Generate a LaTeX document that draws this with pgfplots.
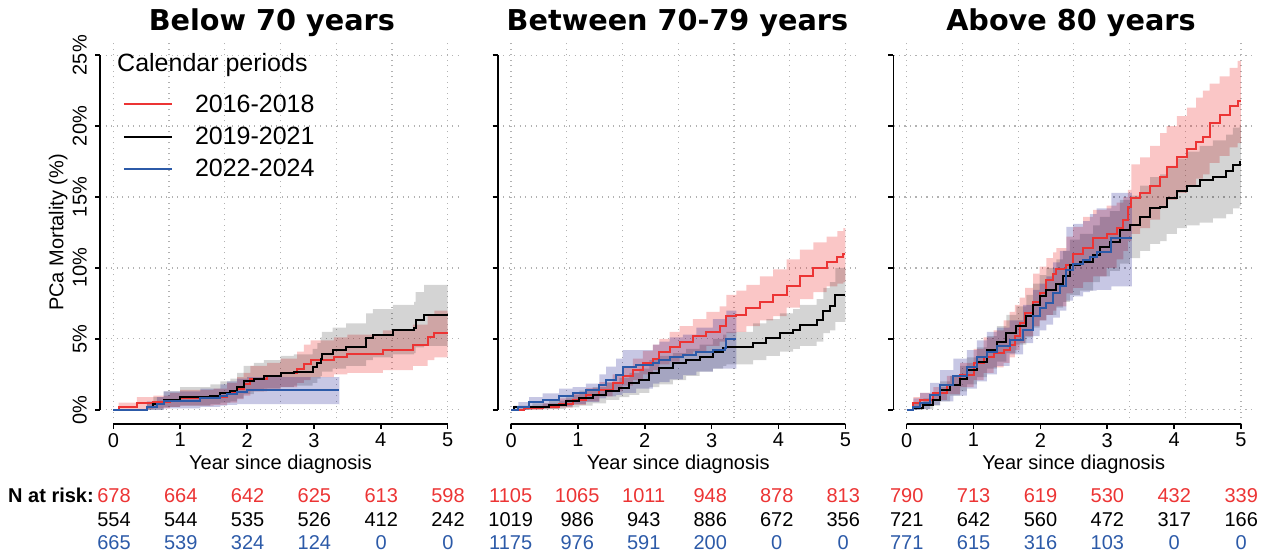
\documentclass[border=0pt]{standalone}
\usepackage{fontspec}
\setmainfont{Liberation Sans}
\newfontfamily\titlefont{DejaVu Sans}
\usepackage{pgfplots}
\pgfplotsset{compat=1.18}
\usepgfplotslibrary{fillbetween}
\usepackage{pgfplotstable}

\definecolor{cred}{HTML}{EC3434}
\definecolor{cblue}{HTML}{2C5AA8}
\definecolor{bred}{HTML}{EC3434}
\definecolor{bblue}{RGB}{0,0,130}

% ---------- Panel 1: below 70 ----------
\pgfplotstableread{
t v lo hi
0 0 0 0
0.08 0.2 0 0.5
0.35 0.45 0.05 0.9
0.6 0.55 0.1 1.0
0.85 0.7 0.2 1.2
1.0 0.8 0.3 1.4
1.5 0.9 0.35 1.5
1.7 1.2 0.5 1.9
1.85 1.5 0.75 2.3
1.95 1.8 1.0 2.6
2.05 2.2 1.3 3.1
2.3 2.4 1.5 3.3
2.5 2.6 1.6 3.6
2.75 2.9 1.9 4.1
2.85 3.2 2.1 4.6
2.95 3.5 2.3 4.9
3.3 3.75 2.5 5.1
3.5 3.9 2.6 5.3
4.03 4.2 2.8 5.6
4.48 4.6 3.1 6.0
4.7 5.1 3.5 6.6
4.8 5.4 3.7 7.0
5.0 5.4 3.7 7.0
}\pAr
\pgfplotstableread{
t v lo hi
0 0 0 0
0.5 0.2 0 0.5
0.6 0.4 0 0.9
0.75 0.7 0.2 1.3
1.0 0.9 0.3 1.6
1.45 1.0 0.4 1.8
1.6 1.2 0.5 2.0
1.75 1.3 0.6 2.2
1.85 1.6 0.8 2.6
1.95 2.0 1.1 3.1
2.1 2.2 1.3 3.3
2.25 2.4 1.5 3.5
2.5 2.6 1.6 3.8
2.7 2.7 1.7 3.9
2.98 3.0 1.9 4.3
3.05 3.3 2.2 4.7
3.1 3.6 2.4 5.1
3.12 3.95 2.7 5.5
3.28 4.2 2.9 5.8
3.48 4.45 3.1 6.1
3.78 5.05 3.5 6.8
3.88 5.3 3.7 7.1
4.18 5.6 3.9 7.4
4.5 5.75 4.0 7.6
4.52 6.3 4.4 8.3
4.65 6.65 4.5 8.8
5.0 6.65 4.5 8.8
}\pAk
\pgfplotstableread{
t v lo hi
0 0 0 0
0.5 0.2 0 0.6
0.65 0.4 0 0.9
0.75 0.65 0.1 1.3
1.3 0.8 0.2 1.5
1.6 1.0 0.3 1.8
1.7 1.1 0.35 2.0
1.85 1.25 0.4 2.2
2.0 1.4 0.4 2.3
3.38 1.4 0.35 2.35
}\pAb

% ---------- Panel 2: 70-79 ----------
\pgfplotstableread{
t v lo hi
0 0 0 0
0.2 0.1 0 0.2
0.47 0.23 0.05 0.45
0.72 0.42 0.15 0.8
0.92 0.7 0.35 1.2
1.12 1.06 0.6 1.55
1.32 1.4 0.95 1.95
1.52 1.88 1.3 2.5
1.67 2.35 1.7 3.05
1.82 2.8 2.1 3.6
1.97 3.3 2.5 4.15
2.12 3.6 2.8 4.6
2.22 4.1 3.2 5.0
2.37 4.46 3.4 5.5
2.52 4.8 3.8 5.9
2.72 5.2 4.1 6.4
2.92 5.5 4.5 6.9
3.12 5.9 4.8 7.3
3.22 6.6 5.4 8.1
3.37 6.7 5.5 8.4
3.52 7.15 5.9 8.8
3.72 7.6 6.3 9.4
3.92 8.1 6.6 9.9
4.12 8.7 7.2 10.6
4.32 9.4 7.8 11.3
4.52 10.0 8.3 11.8
4.72 10.45 8.7 12.2
4.88 10.8 8.9 12.6
4.97 11.0 9.0 12.8
5.0 11.0 9.0 12.8
}\pBr
\pgfplotstableread{
t v lo hi
0 0 0 0
0.04 0.19 0 0.3
0.32 0.23 0.03 0.45
0.57 0.35 0.06 0.65
0.82 0.6 0.18 1.05
1.02 0.82 0.3 1.35
1.22 1.06 0.45 1.6
1.42 1.3 0.7 1.9
1.62 1.53 0.9 2.25
1.77 1.88 1.05 2.6
1.92 2.1 1.2 2.9
2.07 2.6 1.6 3.5
2.22 2.93 1.8 3.8
2.42 3.3 2.1 4.0
2.62 3.5 2.4 4.3
2.82 3.75 2.7 4.6
3.02 4.1 2.9 5.0
3.17 4.35 3.1 5.3
3.22 4.46 3.2 5.5
3.62 4.7 3.5 6.1
3.82 5.05 3.8 6.4
4.02 5.4 4.1 6.8
4.22 5.6 4.3 7.1
4.32 6.0 4.5 7.4
4.57 6.3 4.8 7.8
4.67 7.0 5.4 8.6
4.77 7.3 5.6 9.0
4.85 8.1 6.2 10.0
5.0 8.1 6.2 10.0
}\pBk
\pgfplotstableread{
t v lo hi
0 0 0 0
0.11 0.23 0 0.55
0.27 0.52 0.05 0.9
0.47 0.7 0.12 1.15
0.72 0.94 0.25 1.5
0.92 1.17 0.4 1.6
1.12 1.4 0.55 1.85
1.32 1.76 0.8 2.5
1.42 2.1 0.95 3.05
1.57 2.46 1.05 3.6
1.67 3.05 1.2 4.2
1.87 3.17 1.5 4.2
2.12 3.3 1.85 4.6
2.22 3.5 1.95 4.8
2.37 3.75 2.15 5.1
2.57 3.87 2.45 5.3
2.77 4.1 2.7 5.8
3.02 4.2 2.9 6.4
3.2 4.35 2.9 6.6
3.22 5.0 2.9 7.0
3.37 5.0 2.9 7.0
}\pBb

% ---------- Panel 3: above 80 ----------
\pgfplotstableread{
t v lo hi
0 0 0 0
0.1 0.47 0.1 0.9
0.2 0.7 0.3 1.2
0.4 1.17 0.7 1.6
0.6 1.76 1.1 2.4
0.8 2.46 1.6 3.3
1.0 3.3 2.1 4.3
1.15 3.75 2.6 5.1
1.3 4.0 3.0 5.6
1.45 4.2 3.3 6.3
1.54 4.6 3.7 6.9
1.62 5.2 4.2 7.4
1.69 6.1 4.7 7.9
1.77 6.8 5.2 8.6
1.89 7.6 5.9 9.6
1.99 8.2 6.3 10.1
2.09 9.15 6.7 10.7
2.19 9.6 7.0 11.1
2.24 9.9 7.3 11.4
2.39 10.2 8.2 12.2
2.49 11.0 8.6 12.9
2.64 11.4 9.0 13.6
2.79 12.1 9.4 14.1
2.99 12.4 10.0 14.4
3.14 12.8 10.6 14.6
3.24 13.4 11.2 15.0
3.31 14.3 11.9 15.5
3.36 14.9 12.4 17.3
3.49 15.3 12.8 17.8
3.64 15.8 13.4 18.6
3.79 16.4 14.2 19.5
3.89 17.1 14.8 20.0
4.04 17.8 15.3 20.7
4.19 18.4 15.8 21.3
4.33 18.9 16.3 22.0
4.43 19.2 16.6 22.5
4.53 20.2 17.4 23.0
4.68 20.8 17.9 23.5
4.83 21.4 18.5 24.1
4.95 21.8 18.8 24.6
5.0 21.8 18.8 24.6
}\pCr
\pgfplotstableread{
t v lo hi
0 0 0 0
0.1 0.12 0 0.4
0.25 0.35 0.05 0.8
0.4 0.7 0.3 1.2
0.5 1.4 0.6 2.0
0.65 1.76 1.0 2.4
0.8 2.2 1.3 3.1
0.9 2.8 1.8 3.7
1.05 3.4 2.3 4.4
1.2 4.2 2.9 5.2
1.35 4.8 3.4 5.9
1.49 5.4 4.0 6.7
1.64 5.9 4.6 7.3
1.79 6.6 5.1 8.1
1.89 7.4 5.8 8.9
1.99 8.0 6.3 9.5
2.09 8.45 6.7 10.0
2.24 8.9 7.2 10.6
2.34 9.4 7.6 11.2
2.44 10.2 8.1 12.0
2.59 10.45 8.4 12.4
2.79 10.9 9.0 13.0
2.89 11.5 9.4 13.6
3.04 11.85 9.8 14.0
3.19 12.7 10.3 14.8
3.34 13.0 10.7 15.1
3.49 13.6 11.2 15.8
3.64 14.2 11.7 16.4
3.79 14.3 11.9 16.6
3.89 14.9 12.4 17.2
4.04 15.4 12.8 17.7
4.19 15.8 13.0 18.2
4.38 16.2 13.2 18.6
4.58 16.4 13.5 19.0
4.78 16.8 13.8 19.4
4.88 17.25 14.2 19.9
4.98 17.5 14.4 20.1
5.0 17.5 14.4 20.1
}\pCk
\pgfplotstableread{
t v lo hi
0 0 0 0
0.1 0.23 0 0.8
0.2 0.47 0.05 1.2
0.35 1.06 0.35 1.9
0.5 1.76 0.6 2.8
0.7 2.35 1.0 3.6
0.9 3.05 1.5 4.2
1.05 3.75 2.0 4.9
1.2 4.1 2.5 5.5
1.35 4.5 3.1 5.8
1.54 4.9 3.9 6.3
1.74 5.6 4.7 7.4
1.89 6.6 5.2 8.45
1.99 7.15 5.6 8.9
2.09 7.5 6.0 9.4
2.19 8.2 6.5 10.4
2.29 8.7 7.0 11.2
2.39 9.85 7.7 12.9
2.49 10.3 8.0 13.1
2.64 10.55 8.3 13.3
2.74 10.8 8.4 13.8
2.84 11.15 8.45 14.2
3.06 12.1 8.7 15.3
3.37 12.1 8.7 15.5
}\pCb

\pgfplotsset{
  kmaxis/.style={
    scale only axis, width=361bp, height=383bp, anchor=south west,
    xmin=-0.2, xmax=5.2, ymin=-1, ymax=26, clip=false,
    axis lines*=left, axis line style={draw=none},
    xtick={0,1,2,3,4,5}, xticklabels={0,1,2,3,4,5},
    ytick={0,5,10,15,20,25},
    tick align=outside, major tick length=5bp,
    tick style={black, line width=1.6bp},
    ymajorgrids,
    grid style={black!30, line width=1.2bp, dash pattern=on 1.2bp off 4.3bp},
    extra x ticks={0,0.833333,1.666667,2.5,3.333333,4.166667,5},
    extra x tick labels={},
    extra x tick style={grid=major, major tick length=0pt, tick style={draw=none}},
    tick label style={font=\fontsize{20bp}{24bp}\selectfont},
    xticklabel style={anchor=north, inner sep=0pt},
    xticklabel shift=4bp,
    yticklabel style={rotate=90, anchor=base, inner sep=0pt},
    yticklabel shift=8.5bp,
    xlabel={Year since diagnosis},
    xlabel style={at={(axis description cs:0.5,-0.120)}, anchor=base, inner sep=0pt,
      font=\fontsize{20bp}{24bp}\selectfont},
    title style={anchor=base, inner sep=0pt,
      font=\titlefont\bfseries\fontsize{28.7bp}{32bp}\selectfont},
  },
  bandr/.style={fill=bred, fill opacity=0.28, draw=none, forget plot},
  bandk/.style={fill=black, fill opacity=0.17, draw=none, forget plot},
  bandb/.style={fill=bblue, fill opacity=0.22, draw=none, forget plot},
  edge/.style={draw=none, const plot, forget plot},
  kmline/.style={line width=2bp, const plot},
}

\newcommand{\kmbands}[4]{%
  \addplot[edge, name path=#4ru] table[x=t,y=hi]{#1};
  \addplot[edge, name path=#4rl] table[x=t,y=lo]{#1};
  \addplot[edge, name path=#4ku] table[x=t,y=hi]{#2};
  \addplot[edge, name path=#4kl] table[x=t,y=lo]{#2};
  \addplot[edge, name path=#4bu] table[x=t,y=hi]{#3};
  \addplot[edge, name path=#4bl] table[x=t,y=lo]{#3};
  \addplot[bandr] fill between[of=#4ru and #4rl];
  \addplot[bandk] fill between[of=#4ku and #4kl];
  \addplot[bandb] fill between[of=#4bu and #4bl];
  \draw[line width=1.6bp] (axis cs:-0.2,0) -- (axis cs:-0.2,25);
  \draw[line width=1.6bp] (axis cs:0,-1) -- (axis cs:5,-1);
}

\begin{document}
\begin{tikzpicture}[x=1bp,y=1bp]

\begin{axis}[kmaxis, at={(100bp,130bp)},
  yticklabels={0\%,5\%,10\%,15\%,20\%,25\%},
  ylabel={PCa Mortality (\%)},
  ylabel style={at={(axis description cs:-0.1017,0.5)}, anchor=base, inner sep=0pt,
    font=\fontsize{20bp}{24bp}\selectfont},
  title={Below 70 years},
  title style={at={(axis description cs:0.476,1.013)}},
  legend style={at={(axis description cs:0.0637,0.859)}, anchor=north west,
    draw=none, fill=none, inner sep=0pt, outer sep=0pt,
    font=\fontsize{25bp}{30bp}\selectfont,
    row sep=13.1bp, column sep=22bp, cells={anchor=west}, nodes={inner sep=0pt}},
  legend image code/.code={\draw[#1] (0bp,0bp) -- (48bp,0bp);},
]
\kmbands{\pAr}{\pAk}{\pAb}{a}
\addplot[kmline, cred] table[x=t,y=v]{\pAr};
\addlegendentry{2016-2018}
\addplot[kmline, black] table[x=t,y=v]{\pAk};
\addlegendentry{2019-2021}
\addplot[kmline, cblue] table[x=t,y=v]{\pAb};
\addlegendentry{2022-2024}
\end{axis}

\begin{axis}[kmaxis, at={(497.7bp,130bp)},
  yticklabels={},
  title={Between 70-79 years},
  title style={at={(axis description cs:0.498,1.013)}},
]
\kmbands{\pBr}{\pBk}{\pBb}{b}
\addplot[kmline, cred] table[x=t,y=v]{\pBr};
\addplot[kmline, black] table[x=t,y=v]{\pBk};
\addplot[kmline, cblue] table[x=t,y=v]{\pBb};
\end{axis}

\begin{axis}[kmaxis, at={(893.3bp,130bp)},
  yticklabels={},
  title={Above 80 years},
  title style={at={(axis description cs:0.492,1.013)}},
]
\kmbands{\pCr}{\pCk}{\pCb}{c}
\addplot[kmline, cred] table[x=t,y=v]{\pCr};
\addplot[kmline, black] table[x=t,y=v]{\pCk};
\addplot[kmline, cblue] table[x=t,y=v]{\pCb};
\end{axis}

\node[anchor=base west, inner sep=0pt, font=\fontsize{25bp}{30bp}\selectfont] at (117,482) {Calendar periods};

% number at risk
\node[anchor=base west, inner sep=0pt, font=\bfseries\fontsize{20bp}{24bp}\selectfont] at (8,51) {N at risk:};
\begin{scope}[every node/.style={anchor=base, inner sep=0pt, font=\fontsize{20bp}{24bp}\selectfont}]
\foreach \v [count=\i from 0] in {678,664,642,625,613,598} \node[text=cred] at ({114+66.8*\i},51) {\v};
\foreach \v [count=\i from 0] in {554,544,535,526,412,242} \node[text=black] at ({114+66.8*\i},27) {\v};
\foreach \v [count=\i from 0] in {665,539,324,124,0,0} \node[text=cblue] at ({114+66.8*\i},4) {\v};
\foreach \v [count=\i from 0] in {1105,1065,1011,948,878,813} \node[text=cred] at ({510.7+66.5*\i},51) {\v};
\foreach \v [count=\i from 0] in {1019,986,943,886,672,356} \node[text=black] at ({510.7+66.5*\i},27) {\v};
\foreach \v [count=\i from 0] in {1175,976,591,200,0,0} \node[text=cblue] at ({510.7+66.5*\i},4) {\v};
\foreach \v [count=\i from 0] in {790,713,619,530,432,339} \node[text=cred] at ({906.7+66.9*\i},51) {\v};
\foreach \v [count=\i from 0] in {721,642,560,472,317,166} \node[text=black] at ({906.7+66.9*\i},27) {\v};
\foreach \v [count=\i from 0] in {771,615,316,103,0,0} \node[text=cblue] at ({906.7+66.9*\i},4) {\v};
\end{scope}
\pgfresetboundingbox
\useasboundingbox (0,0) rectangle (1267,554);
\end{tikzpicture}
\end{document}
